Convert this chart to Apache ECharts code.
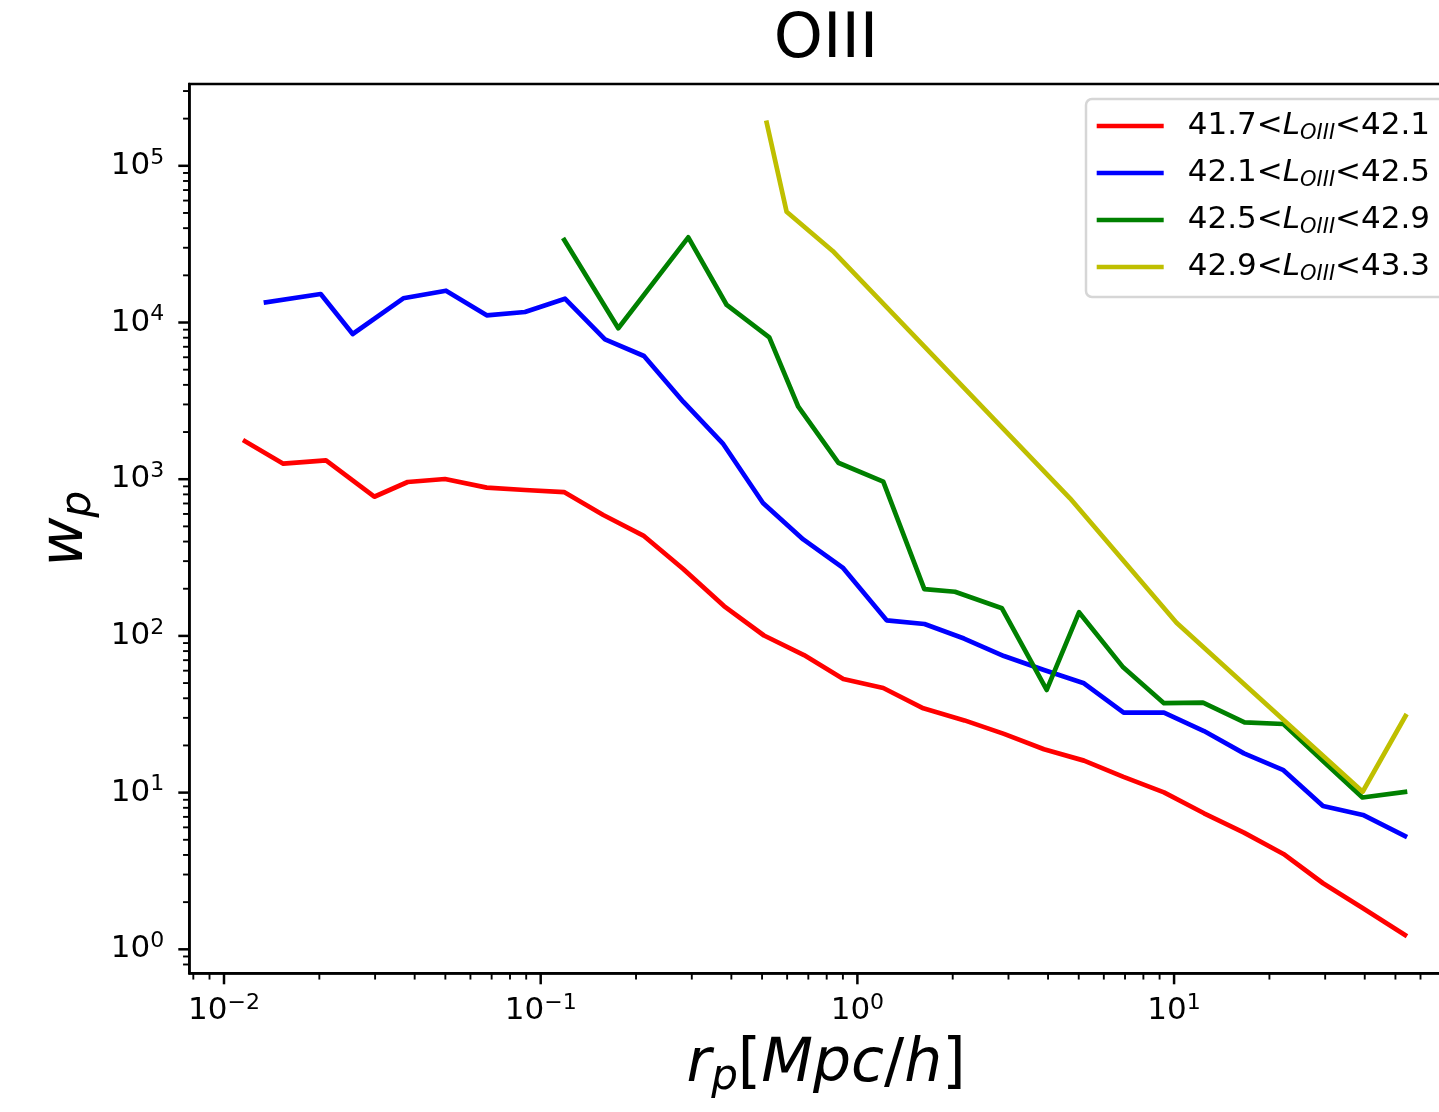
<!DOCTYPE html>
<html><head><meta charset="utf-8">
<script src="https://cdn.jsdelivr.net/npm/echarts@6/dist/echarts.min.js"></script>
<style>html,body{margin:0;padding:0;background:#fff}#c{width:1439px;height:1112px}</style>
</head><body><div id="c"></div>
<script>
// ---- data ----
const RP_RED = [0.01165, 0.01539, 0.02099, 0.02982, 0.03802, 0.04987, 0.06753, 0.0892, 0.1185, 0.1576, 0.2109, 0.2819, 0.3792, 0.5071, 0.6782, 0.9026, 1.207, 1.615, 2.179, 2.903, 3.884, 5.194, 6.922, 9.292, 12.43, 16.62, 22.15, 29.53, 39.49, 53.59];
const WP_RED = [1746, 1256, 1320, 773, 960, 1003, 883, 853, 828, 591, 437, 267, 155, 100.6, 75.5, 53.1, 46.5, 34.5, 28.9, 23.7, 18.9, 16.0, 12.6, 10.04, 7.38, 5.55, 4.06, 2.64, 1.827, 1.234];

const RP_BLUE = [0.01357, 0.0202, 0.02549, 0.03683, 0.05023, 0.06753, 0.0892, 0.1193, 0.1596, 0.2119, 0.2819, 0.3756, 0.5034, 0.6747, 0.8986, 1.237, 1.629, 2.171, 2.903, 3.884, 5.194, 6.932, 9.292, 12.43, 16.62, 22.15, 29.53, 39.49, 53.59];
const WP_BLUE = [13456, 15203, 8446, 14270, 15957, 11114, 11667, 14188, 7814, 6112, 3123, 1695, 705, 413, 273, 125.8, 119.1, 96.2, 74.4, 60.6, 49.8, 32.4, 32.4, 24.7, 17.8, 13.9, 8.21, 7.20, 5.28];

const RP_GREEN = [0.1187, 0.1758, 0.2924, 0.3867, 0.527, 0.6507, 0.8703, 1.207, 1.627, 2.033, 2.861, 3.961, 5.009, 6.907, 9.292, 12.34, 16.69, 22.15, 29.53, 39.34, 53.59];
const WP_GREEN = [33610, 9183, 34970, 12936, 8046, 2901, 1274, 964, 199, 191.4, 150.0, 45.2, 141.5, 63.0, 37.2, 37.5, 28.1, 27.4, 15.9, 9.31, 10.09];

const RP_YELLOW = [0.5172, 0.5977, 0.8355, 4.692, 10.18, 39.40, 53.79];
const WP_YELLOW = [188400, 50950, 28600, 755, 121.4, 10.13, 30.8];

const SERIES_NAMES = ['41.7<L_OIII<42.1', '42.1<L_OIII<42.5', '42.5<L_OIII<42.9', '42.9<L_OIII<43.3'];
const SERIES_COLORS = ['#ff0000', '#0000ff', '#008000', '#bfbf00'];

// axis ranges and ticks
const X_MIN = 0.00777, X_MAX = 81.66;
const Y_MIN = 0.7029, Y_MAX = 332700;
const X_MAJOR = [0.01, 0.1, 1, 10];
const Y_MAJOR = [1, 10, 100, 1000, 10000, 100000];
const MINOR_MULT = [2, 3, 4, 5, 6, 7, 8, 9];
const DECADES = [-3, -2, -1, 0, 1, 2, 3, 4, 5];

const FONT = '"DejaVu Sans", sans-serif';

function minorTicks(lo, hi) {
  const out = [];
  DECADES.forEach(e => MINOR_MULT.forEach(m => {
    const v = m * Math.pow(10, e);
    if (v > lo && v < hi) out.push(v);
  }));
  return out;
}
const X_MINOR = minorTicks(X_MIN, X_MAX);
const Y_MINOR = minorTicks(Y_MIN, Y_MAX);

function pairs(xs, ys) { return xs.map((x, i) => [x, ys[i]]); }

function powLabel(v) {
  const l = Math.log10(v);
  const e = Math.round(l);
  if (Math.abs(l - e) > 1e-6) return '';
  return '{b|10}{e|' + String(e).replace('-', '\u2212') + '}';
}

const labelRich = {
  b: { fontFamily: FONT, fontSize: 31, lineHeight: 38, color: '#000' },
  e: { fontFamily: FONT, fontSize: 22, lineHeight: 22, verticalAlign: 'top', color: '#000' }
};

const MAJ_LEN = 11, MIN_LEN = 6.25, MAJ_W = 2.5, MIN_W = 1.9;

function xTickSeries(vals, len, w) {
  return {
    type: 'custom', silent: true, clip: false, z: 5,
    data: vals.map(v => [v, Y_MIN]),
    renderItem: (params, api) => {
      const p = api.coord([api.value(0), Y_MIN]);
      return { type: 'line', shape: { x1: p[0], y1: p[1], x2: p[0], y2: p[1] + len },
               style: { stroke: '#000', lineWidth: w } };
    }
  };
}
function yTickSeries(vals, len, w) {
  return {
    type: 'custom', silent: true, clip: false, z: 5,
    data: vals.map(v => [X_MIN, v]),
    renderItem: (params, api) => {
      const p = api.coord([X_MIN, api.value(1)]);
      return { type: 'line', shape: { x1: p[0] - len, y1: p[1], x2: p[0], y2: p[1] },
               style: { stroke: '#000', lineWidth: w } };
    }
  };
}

const dataSets = [pairs(RP_RED, WP_RED), pairs(RP_BLUE, WP_BLUE), pairs(RP_GREEN, WP_GREEN), pairs(RP_YELLOW, WP_YELLOW)];

const lineSeries = SERIES_NAMES.map((name, i) => ({
  name: name, type: 'line', data: dataSets[i],
  showSymbol: false, symbol: 'none', z: 3,
  color: SERIES_COLORS[i],
  lineStyle: { color: SERIES_COLORS[i], width: 4.7, join: 'round', cap: 'square' },
  emphasis: { disabled: true }
}));

const nameRich = {
  i: { fontFamily: FONT, fontSize: 60, lineHeight: 68, fontStyle: 'italic', color: '#000' },
  n: { fontFamily: FONT, fontSize: 60, lineHeight: 68, color: '#000' },
  s: { fontFamily: FONT, fontSize: 42, lineHeight: 42, fontStyle: 'italic', verticalAlign: 'bottom', color: '#000' }
};

const chart = echarts.init(document.getElementById('c'), null, { renderer: 'canvas' });
chart.setOption({
  animation: false,
  backgroundColor: '#fff',
  textStyle: { fontFamily: FONT, color: '#000' },
  title: {
    text: 'OIII', left: 826, top: 9, textAlign: 'center', padding: 0,
    textStyle: { fontFamily: FONT, fontSize: 62.5, fontWeight: 'normal', color: '#000', lineHeight: 64 }
  },
  grid: {
    left: 189.3, top: 84, width: 1273.6, height: 889.3,
    show: true, borderColor: '#000', borderWidth: 2.5, backgroundColor: 'transparent',
    containLabel: false, outerBoundsMode: 'none'
  },
  legend: {
    data: SERIES_NAMES, orient: 'vertical', left: 1086, top: 99,
    padding: [9, 80, 12, 10.7],
    itemWidth: 67, itemHeight: 4.7, itemGap: 11, icon: 'rect',
    backgroundColor: 'rgba(255,255,255,0.8)', borderColor: '#d6d6d6', borderWidth: 2.5, borderRadius: 6,
    selectedMode: false,
    formatter: name => {
      const parts = name.split('<');
      const sub = parts[1].split('_');
      return '{t|' + parts[0] + '<}{i|' + sub[0] + '}{s|' + sub[1] + '}{t|<' + parts[2] + '}';
    },
    textStyle: {
      fontFamily: FONT, fontSize: 31, color: '#000', lineHeight: 36, padding: [0, 0, 0, 19],
      rich: {
        t: { fontFamily: FONT, fontSize: 31, lineHeight: 36, color: '#000' },
        i: { fontFamily: FONT, fontSize: 31, lineHeight: 36, fontStyle: 'italic', color: '#000' },
        s: { fontFamily: FONT, fontSize: 21, lineHeight: 21, fontStyle: 'italic', verticalAlign: 'bottom', color: '#000' }
      }
    }
  },
  xAxis: {
    type: 'log', logBase: 10, min: X_MIN, max: X_MAX,
    position: 'bottom',
    axisLine: { show: true, onZero: false, lineStyle: { color: '#000', width: 2.5 } },
    axisTick: { show: false },
    splitLine: { show: false },
    minorTick: { show: false },
    axisLabel: { show: true, margin: 19, formatter: powLabel, rich: labelRich, showMinLabel: true, showMaxLabel: true },
    name: '{i|r}{s|p}{n|[}{i|Mpc}{n|/}{i|h}{n|]}',
    nameLocation: 'middle', nameGap: 58,
    nameTextStyle: { fontFamily: FONT, fontSize: 60, color: '#000', rich: nameRich }
  },
  yAxis: {
    type: 'log', logBase: 10, min: Y_MIN, max: Y_MAX,
    position: 'left',
    axisLine: { show: true, onZero: false, lineStyle: { color: '#000', width: 2.5 } },
    axisTick: { show: false },
    splitLine: { show: false },
    minorTick: { show: false },
    axisLabel: { show: true, margin: 25, formatter: powLabel, rich: labelRich },
    name: '{i|w}{s|p}',
    nameLocation: 'middle', nameGap: 88,
    nameTextStyle: { fontFamily: FONT, fontSize: 60, color: '#000', rich: nameRich }
  },
  series: lineSeries.concat([
    xTickSeries(X_MAJOR, MAJ_LEN, MAJ_W),
    xTickSeries(X_MINOR, MIN_LEN, MIN_W),
    yTickSeries(Y_MAJOR, MAJ_LEN, MAJ_W),
    yTickSeries(Y_MINOR, MIN_LEN, MIN_W)
  ])
});
</script></body></html>
